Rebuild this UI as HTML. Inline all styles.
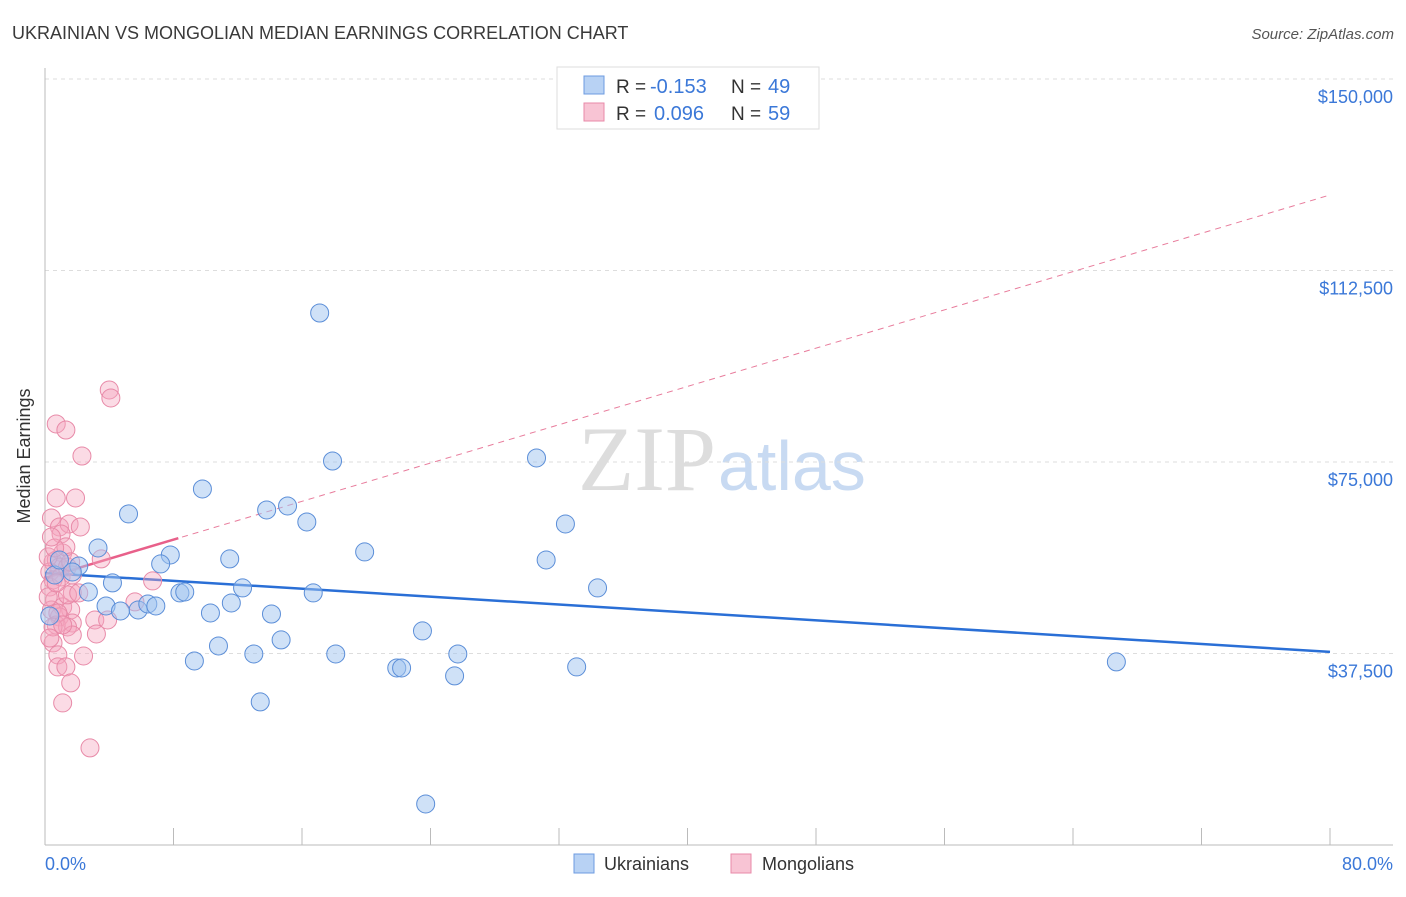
<!DOCTYPE html>
<html><head><meta charset="utf-8"><style>
body{margin:0;background:#fff;font-family:"Liberation Sans",sans-serif;}
</style></head><body>
<svg width="1406" height="892" xmlns="http://www.w3.org/2000/svg" style="font-family:'Liberation Sans',sans-serif">
<text x="12" y="39" font-size="18" fill="#3a3a3a">UKRAINIAN VS MONGOLIAN MEDIAN EARNINGS CORRELATION CHART</text>
<text x="1394" y="39" font-size="15" fill="#555" text-anchor="end" font-style="italic">Source: ZipAtlas.com</text>
<text x="716" y="490" font-size="92" fill="#ddd" text-anchor="end" font-family="Liberation Serif,serif">ZIP</text>
<text x="718" y="490" font-size="70" fill="#c8daf2">atlas</text>
<g id="grid"></g>
<line x1="45" y1="68" x2="45" y2="845" stroke="#bbb"/>
<line x1="45" y1="845" x2="1393" y2="845" stroke="#bbb"/>
<g id="ticks"></g>
<text x="30" y="456" font-size="18" fill="#333" text-anchor="middle" transform="rotate(-90 30 456)">Median Earnings</text>
<text x="45" y="870" font-size="18" fill="#3b78d8">0.0%</text>
<text x="1393" y="870" font-size="18" fill="#3b78d8" text-anchor="end">80.0%</text>
<g id="lines"></g>
<g id="pts"></g>
<g>
<rect x="557" y="67" width="262" height="62" fill="#fff" stroke="#ddd"/>
<rect x="584" y="76" width="20" height="18" fill="#b8d2f4" stroke="#6d9be0"/>
<text x="616" y="93" font-size="19" fill="#333">R =</text>
<text x="650" y="93" font-size="20" fill="#3b78d8">-0.153</text>
<text x="731" y="93" font-size="19" fill="#333">N =</text>
<text x="768" y="93" font-size="20" fill="#3b78d8">49</text>
<rect x="584" y="103" width="20" height="18" fill="#f8c4d4" stroke="#e88aa8"/>
<text x="616" y="120" font-size="19" fill="#333">R =</text>
<text x="654" y="120" font-size="20" fill="#3b78d8">0.096</text>
<text x="731" y="120" font-size="19" fill="#333">N =</text>
<text x="768" y="120" font-size="20" fill="#3b78d8">59</text>
</g>
<g>
<rect x="574" y="854" width="20" height="19" fill="#b8d2f4" stroke="#6d9be0"/>
<text x="604" y="870" font-size="18" fill="#333">Ukrainians</text>
<rect x="731" y="854" width="20" height="19" fill="#f8c4d4" stroke="#e88aa8"/>
<text x="762" y="870" font-size="18" fill="#333">Mongolians</text>
</g>
</svg>
<script>
const yTicks=[150000,112500,75000,37500];
const yTickLabels=["$150,000","$112,500","$75,000","$37,500"];
const xTicks=[0,8,16,24,32,40,48,56,64,72,80];
const blueX=[17.1,5.2,9.8,17.9,30.6,13.8,15.1,16.3,32.4,3.3,7.8,7.2,11.5,19.9,31.2,2.1,4.2,12.3,34.4,2.7,8.4,8.7,16.7,3.8,4.7,5.8,6.4,6.9,10.3,11.6,14.1,23.5,14.7,10.8,25.7,18.1,13.0,9.3,66.7,21.9,22.2,33.1,25.5,13.4,23.7,0.3,0.6,1.7,0.9];
const blueY=[104180,64830,69720,75200,75790,65610,66390,63260,62870,58170,56800,55040,56020,57390,55820,54640,51320,50340,50340,49550,49360,49550,49360,46810,45830,46030,47200,46810,45440,47400,45240,41920,40160,38980,37410,37410,37410,36040,35850,34670,34670,34870,33110,28020,8040,44850,52880,53470,55820];
const pinkX=[4.0,4.1,0.7,1.3,2.3,0.7,1.9,0.4,0.9,1.5,2.2,1.0,3.5,0.5,1.1,0.7,0.9,0.3,1.4,0.5,0.3,1.7,6.7,0.6,1.1,0.4,1.6,0.9,1.7,0.7,1.4,3.1,3.9,5.6,3.2,1.7,0.5,0.8,2.4,0.8,1.3,1.6,1.1,2.8,0.2,0.8,0.5,0.2,1.3,0.6,1.0,1.4,0.3,1.7,2.1,0.4,0.7,1.6,1.1];
const pinkY=[89110,87540,82450,81270,76180,67960,67960,64040,62280,62870,62280,60910,56020,55430,57190,55820,54450,53470,54450,51900,50530,49360,51710,47990,46620,46030,46030,44660,43480,43090,42700,44070,44070,47600,41330,41130,39570,37220,37020,34870,34870,31740,27820,19010,48580,45440,42700,56410,58370,58170,52490,48970,40540,52880,49360,60320,51320,55430,43090];
const blueTrend=[53270,37810];
const pinkTrend=[52300,127290];
const pinkSolidEnd=8.3;
const NS="http://www.w3.org/2000/svg";
const sx=x=>45+x/80*1285;
const sy=v=>79+(150000-v)/37500*191.5;
function mk(tag,attrs,parent){const e=document.createElementNS(NS,tag);for(const k in attrs)e.setAttribute(k,attrs[k]);document.getElementById(parent).appendChild(e);return e;}
yTicks.forEach((v,i)=>{
 const g=mk('line',{x1:45,x2:1393,y1:sy(v),y2:sy(v),stroke:'#ddd','stroke-dasharray':'4,4'},'grid');
 
 
 const t=mk('text',{x:1393,y:sy(v)+24,'font-size':18,fill:'#3b78d8','text-anchor':'end'},'grid');
 t.textContent=yTickLabels[i];
 
 
});
xTicks.forEach(x=>{
 const t=mk('line',{x1:sx(x),x2:sx(x),y1:828,y2:845,stroke:'#bbb'},'ticks');
 
 
});
let l=mk('line',{x1:sx(0),y1:sy(pinkTrend[0]),x2:sx(80),y2:sy(pinkTrend[1]),stroke:'#e87c9c','stroke-dasharray':'6,5','stroke-width':1},'lines');


const pe=pinkTrend[0]+(pinkTrend[1]-pinkTrend[0])*pinkSolidEnd/80;
l=mk('line',{x1:sx(0),y1:sy(pinkTrend[0]),x2:sx(pinkSolidEnd),y2:sy(pe),stroke:'#e8608a','stroke-width':2.5},'lines');


l=mk('line',{x1:sx(0),y1:sy(blueTrend[0]),x2:sx(80),y2:sy(blueTrend[1]),stroke:'#2a6fd6','stroke-width':2.5},'lines');


pinkX.forEach((x,i)=>{
 const c=mk('circle',{cx:sx(x),cy:sy(pinkY[i]),r:9,fill:'rgba(244,166,190,0.4)',stroke:'#e88aa8','stroke-width':1},'pts');
 
 
});
blueX.forEach((x,i)=>{
 const c=mk('circle',{cx:sx(x),cy:sy(blueY[i]),r:9,fill:'rgba(160,195,240,0.5)',stroke:'#5b8ed8','stroke-width':1},'pts');
 
 
});
</script>
</body></html>
